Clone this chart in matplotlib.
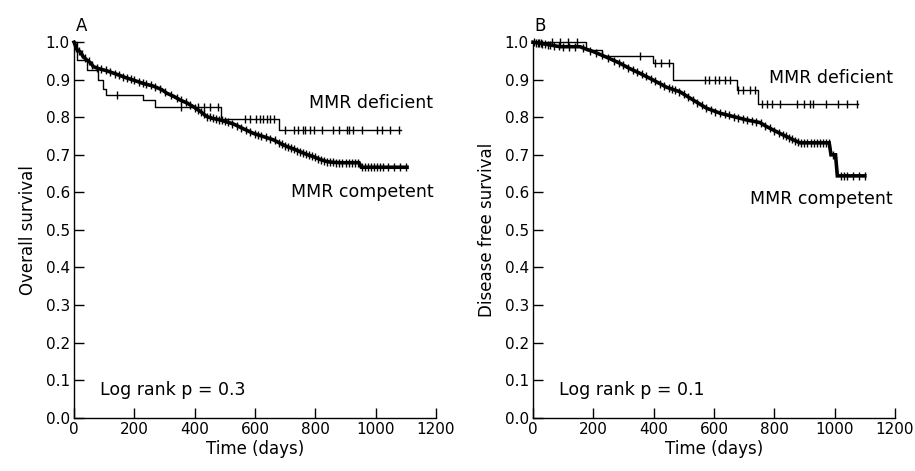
import numpy as np
import matplotlib
matplotlib.use("Agg")
import matplotlib.pyplot as plt

# ---- panel A: overall survival ----
# MMR deficient (step knots)
a_def_t = [0, 11, 44, 81, 95, 105, 230, 269, 487, 681, 1085]
a_def_s = [1.0, 0.953, 0.926, 0.899, 0.875, 0.859, 0.846, 0.827, 0.795, 0.767, 0.767]
a_def_cens = [142, 355, 410, 430, 450, 478, 567, 584, 604, 617, 627, 639, 650, 664,
              700, 728, 744, 759, 766, 782, 797, 821, 860, 877, 905, 913, 925, 955,
              1004, 1021, 1048, 1076]

# MMR competent (dense events, read as a polyline)
a_com_t = [0, 5, 10, 20, 30, 42, 55, 64, 80, 108, 140, 170, 197, 230, 263, 290, 308,
           330, 352, 375, 396, 420, 440, 460, 484, 505, 529, 560, 595, 630, 661, 685,
           706, 730, 750, 775, 794, 815, 838, 860, 883, 945, 952, 1104]
a_com_s = [1.0, 0.99, 0.98, 0.975, 0.962, 0.953, 0.945, 0.935, 0.93, 0.924, 0.915,
           0.906, 0.899, 0.89, 0.883, 0.874, 0.864, 0.856, 0.846, 0.838, 0.828, 0.815,
           0.802, 0.797, 0.793, 0.788, 0.782, 0.77, 0.757, 0.748, 0.74, 0.73, 0.722,
           0.715, 0.708, 0.70, 0.695, 0.688, 0.682, 0.68, 0.679, 0.679, 0.667, 0.667]
a_com_cens = [8, 15, 25, 35, 48, 60, 75, 90, 105, 120, 135, 150, 162, 175, 188, 200,
              215, 228, 240, 255, 270, 285, 300, 320, 340, 355, 370, 385, 400, 410,
              420, 430, 440, 450, 460, 470, 480, 490, 500, 510, 525, 540, 555, 570,
              585, 600, 610, 620, 635, 650, 665, 680, 690, 700, 710, 720, 730, 740,
              750, 760, 770, 780, 790, 800, 810, 820, 830, 840, 850, 860, 870, 880,
              890, 900, 910, 920, 930, 940, 955, 965, 975, 985, 995, 1005, 1015,
              1025, 1040, 1060, 1080, 1100]

# ---- panel B: disease free survival ----
b_def_t = [0, 176, 228, 397, 465, 675, 745, 1078]
b_def_s = [1.0, 0.979, 0.963, 0.944, 0.899, 0.873, 0.835, 0.835]
b_def_cens = [62, 89, 117, 145, 355, 404, 426, 451, 570, 585, 603, 618, 637, 653,
              680, 697, 719, 736, 758, 775, 791, 819, 874, 897, 918, 929, 973, 1012,
              1040, 1073]

b_com_t = [0, 40, 89, 156, 178, 200, 244, 288, 320, 355, 399, 443, 487, 531, 576,
           620, 664, 708, 752, 775, 819, 863, 885, 982, 988, 1003, 1009, 1100]
b_com_s = [1.0, 0.995, 0.988, 0.988, 0.981, 0.975, 0.96, 0.944, 0.93, 0.917, 0.899,
           0.88, 0.868, 0.846, 0.824, 0.811, 0.802, 0.793, 0.786, 0.775, 0.757, 0.74,
           0.732, 0.732, 0.70, 0.70, 0.644, 0.644]
b_com_cens = [5, 10, 15, 20, 25, 30, 40, 50, 55, 70, 85, 100, 120, 140, 165, 190,
              210, 230, 250, 270, 285, 300, 315, 330, 345, 360, 375, 390, 405, 420,
              435, 450, 460, 470, 485, 500, 515, 530, 545, 560, 575, 590, 605, 620,
              635, 650, 665, 680, 695, 710, 725, 740, 755, 770, 785, 800, 815, 830,
              840, 850, 860, 870, 880, 890, 900, 910, 920, 930, 940, 950, 960, 970,
              980, 995, 1020, 1030, 1040, 1060, 1080, 1100]

xticks = [0, 200, 400, 600, 800, 1000, 1200]
yticks = [0.0, 0.1, 0.2, 0.3, 0.4, 0.5, 0.6, 0.7, 0.8, 0.9, 1.0]


def step_at(t_knots, s_knots, t):
    idx = np.searchsorted(t_knots, t, side='right') - 1
    return np.array(s_knots)[idx]


def km_step(ax, t, s, cens):
    ax.plot(t, s, drawstyle='steps-post', color='black', lw=1.0, clip_on=False)
    cens = np.array(cens)
    ax.plot(cens, step_at(t, s, cens), ls='none', marker='|', ms=6,
            mew=1.0, color='black', clip_on=False)


def km_dense(ax, t, s, cens):
    ax.plot(t, s, color='black', lw=2.6, clip_on=False, solid_joinstyle='miter')
    cens = np.array(cens)
    ax.plot(cens, np.interp(cens, t, s), ls='none', marker='|', ms=6,
            mew=1.0, color='black', clip_on=False)


def style(ax, ylabel, letter, ptext):
    ax.set_xlim(0, 1200)
    ax.set_ylim(0, 1.0)
    ax.set_xticks(xticks)
    ax.set_yticks(yticks)
    ax.set_yticklabels(['%.1f' % v for v in yticks])
    ax.spines['top'].set_visible(False)
    ax.spines['right'].set_visible(False)
    for sp in ['left', 'bottom']:
        ax.spines[sp].set_linewidth(1.0)
    ax.tick_params(direction='in', length=7, width=1.0, labelsize=11, pad=3)
    ax.set_xlabel('Time (days)', fontsize=12, labelpad=2)
    ax.set_ylabel(ylabel, fontsize=12, labelpad=6)
    ax.text(0.005, 1.02, letter, transform=ax.transAxes, fontsize=12,
            ha='left', va='bottom')
    ax.text(85, 0.075, ptext, fontsize=12.5, ha='left', va='center')


fig = plt.figure(figsize=(9.15, 4.71), dpi=100)
ax1 = fig.add_axes([0.0809, 0.1132, 0.3956, 0.7972])
ax2 = fig.add_axes([0.5825, 0.1132, 0.3956, 0.7972])

km_step(ax1, a_def_t, a_def_s, a_def_cens)
km_dense(ax1, a_com_t, a_com_s, a_com_cens)
style(ax1, 'Overall survival', 'A', 'Log rank p = 0.3')
ax1.text(1191, 0.838, 'MMR deficient', fontsize=12.5, ha='right', va='center')
ax1.text(1191, 0.601, 'MMR competent', fontsize=12.5, ha='right', va='center')

km_step(ax2, b_def_t, b_def_s, b_def_cens)
km_dense(ax2, b_com_t, b_com_s, b_com_cens)
style(ax2, 'Disease free survival', 'B', 'Log rank p = 0.1')
ax2.text(1193, 0.904, 'MMR deficient', fontsize=12.5, ha='right', va='center')
ax2.text(1193, 0.582, 'MMR competent', fontsize=12.5, ha='right', va='center')

fig.savefig('out.png', dpi=100)
